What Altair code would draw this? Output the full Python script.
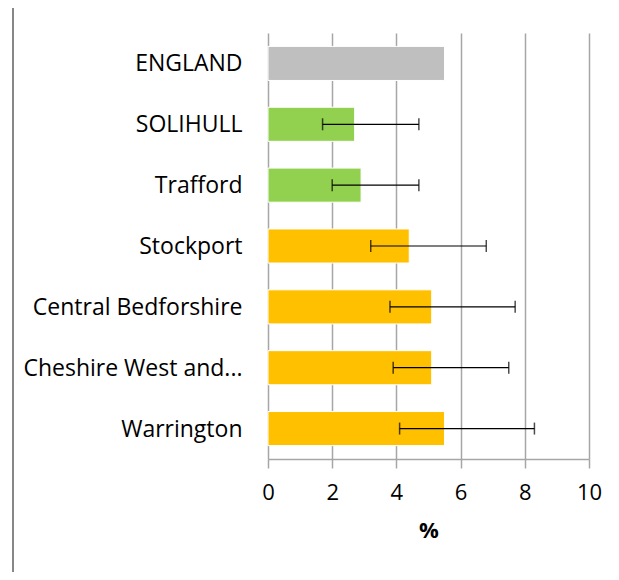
import altair as alt
import pandas as pd

areas = ["ENGLAND", "SOLIHULL", "Trafford", "Stockport", "Central Bedforshire",
         "Cheshire West and...", "Warrington"]
values = [5.5, 2.7, 2.9, 4.4, 5.1, 5.1, 5.5]
lower = [None, 1.7, 2.0, 3.2, 3.8, 3.9, 4.1]
upper = [None, 4.7, 4.7, 6.8, 7.7, 7.5, 8.3]
groups = ["England", "Better", "Better", "Similar", "Similar", "Similar", "Similar"]
group_domain = ["England", "Better", "Similar"]
group_colors = ["#BFBFBF", "#92D050", "#FFC000"]
x_ticks = [0, 2, 4, 6, 8, 10]

df = pd.DataFrame({"area": areas, "value": values, "lo": lower, "hi": upper, "group": groups})

FONT = "Open Sans"

y_enc = alt.Y("area:N", sort=areas, title=None,
              scale=alt.Scale(paddingInner=0.44, paddingOuter=0.22),
              axis=alt.Axis(ticks=False, domain=False, grid=False,
                            labelFontSize=23, labelFont=FONT, labelColor="#000000",
                            labelPadding=26, labelLimit=260, labelOffset=1))
x_scale = alt.Scale(domain=[0, 10], nice=False)

bars = alt.Chart(df).mark_bar(stroke="white", strokeWidth=1).encode(
    x=alt.X("value:Q", scale=x_scale, title="%",
            axis=alt.Axis(values=x_ticks, grid=True, gridColor="#A6A6A6", gridWidth=1.5,
                          domainColor="#A6A6A6", domainWidth=1.5,
                          tickColor="#A6A6A6", tickSize=9, tickWidth=1.5,
                          labelFlush=False,
                          labelFontSize=22, labelFont=FONT, labelColor="#000000",
                          labelPadding=14, titleFontSize=22, titleFont=FONT,
                          titleFontWeight="bold", titleColor="#000000", titlePadding=17)),
    y=y_enc,
    color=alt.Color("group:N", scale=alt.Scale(domain=group_domain, range=group_colors),
                    legend=None),
)

err_df = df.dropna()
rules = alt.Chart(err_df).mark_rule(color="#000000", strokeWidth=1.2).encode(
    x="lo:Q", x2="hi:Q", y=alt.Y("area:N", sort=areas))
cap_lo = alt.Chart(err_df).mark_tick(color="#000000", thickness=1.5, size=12).encode(
    x="lo:Q", y=alt.Y("area:N", sort=areas))
cap_hi = alt.Chart(err_df).mark_tick(color="#000000", thickness=1.5, size=12).encode(
    x="hi:Q", y=alt.Y("area:N", sort=areas))

frame_left = alt.Chart(df).mark_rule(color="#878787", strokeWidth=2).encode(
    x=alt.value(-255), y=alt.value(-25), y2=alt.value(560))

chart = alt.layer(bars, rules, cap_lo, cap_hi, frame_left).properties(
    width=321, height=426,
    autosize=alt.AutoSizeParams(type="none"),
    padding={"left": 260, "top": 25, "right": 22, "bottom": 113},
    background="white",
).configure_view(stroke=None)

chart.save("out.html", embed_options={"renderer": "svg", "actions": False})
